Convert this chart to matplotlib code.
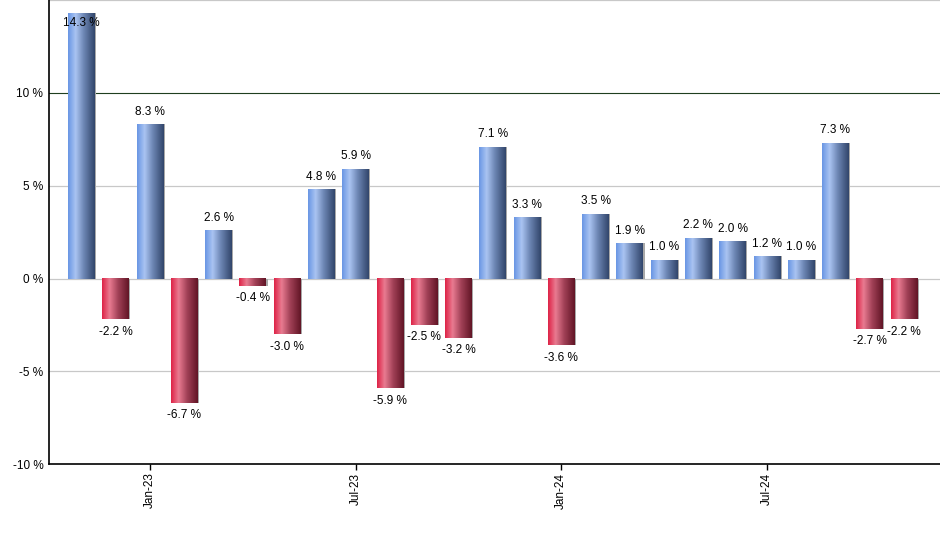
import matplotlib
matplotlib.use("Agg")
import matplotlib.pyplot as plt
import numpy as np
from matplotlib.colors import LinearSegmentedColormap

plt.rcParams["font.family"] = ["Liberation Sans", "DejaVu Sans"]

months = ["Nov-22", "Dec-22", "Jan-23", "Feb-23", "Mar-23", "Apr-23", "May-23",
          "Jun-23", "Jul-23", "Aug-23", "Sep-23", "Oct-23", "Nov-23", "Dec-23",
          "Jan-24", "Feb-24", "Mar-24", "Apr-24", "May-24", "Jun-24", "Jul-24",
          "Aug-24", "Sep-24", "Oct-24", "Nov-24"]
returns = [14.3, -2.2, 8.3, -6.7, 2.6, -0.4, -3.0, 4.8, 5.9, -5.9, -2.5, -3.2,
           7.1, 3.3, -3.6, 3.5, 1.9, 1.0, 2.2, 2.0, 1.2, 1.0, 7.3, -2.7, -2.2]
tick_months = ["Jan-23", "Jul-23", "Jan-24", "Jul-24"]
y_ticks = [-10, -5, 0, 5, 10]

blue_cmap = LinearSegmentedColormap.from_list(
    "blue", [(0, "#6a96e4"), (0.28, "#aac4f2"), (0.6, "#6b84b2"), (1, "#32466b")])
red_cmap = LinearSegmentedColormap.from_list(
    "red", [(0, "#de2447"), (0.28, "#e97b91"), (0.6, "#a24157"), (1, "#621526")])
grad = np.linspace(0, 1, 64).reshape(1, -1)

fig = plt.figure(figsize=(9.4, 5.5), dpi=100)
ax = fig.add_axes([0.052, 0.156, 0.948, 0.844])

x = np.arange(len(months))
width = 0.78

# grid lines
for yv in [-5, 0, 5, 15]:
    ax.axhline(yv, color="#c8c8c8", lw=0.9, zorder=1)
ax.axhline(10, color="#1f3f1f", lw=0.8, zorder=1)

for xi, v in zip(x, returns):
    cmap = blue_cmap if v >= 0 else red_cmap
    # shadow
    ax.bar(xi + 0.04, v, width, color="#a8a8a8", zorder=2, lw=0)
    ax.imshow(grad, cmap=cmap, aspect="auto", interpolation="bilinear",
              extent=(xi - width / 2, xi + width / 2, 0, v), zorder=3)
    label = f"{v:.1f} %"
    if v >= 0:
        if v > 14:
            ax.text(xi, v - 0.2, label, ha="center", va="top", fontsize=8.5, zorder=5)
        else:
            ax.text(xi, v + 0.35, label, ha="center", va="bottom", fontsize=8.5, zorder=5)
    else:
        ax.text(xi, v - 0.35, label, ha="center", va="top", fontsize=8.5, zorder=5)

ax.set_xlim(-0.95, len(months) - 1 + 1.05)
ax.set_ylim(-10, 15)

ax.set_yticks(y_ticks)
ax.set_yticklabels([f"{t} %" for t in y_ticks], fontsize=8.5)
ax.set_xticks([months.index(m) for m in tick_months])
ax.set_xticklabels(tick_months, rotation=90, fontsize=8.5)
ax.tick_params(axis="y", length=0, pad=4)
ax.tick_params(axis="x", length=4, width=1, pad=2)

for s in ["top", "right"]:
    ax.spines[s].set_visible(False)
ax.spines["left"].set_linewidth(1.2)
ax.spines["bottom"].set_linewidth(1.2)

fig.savefig("out.png", dpi=100)
